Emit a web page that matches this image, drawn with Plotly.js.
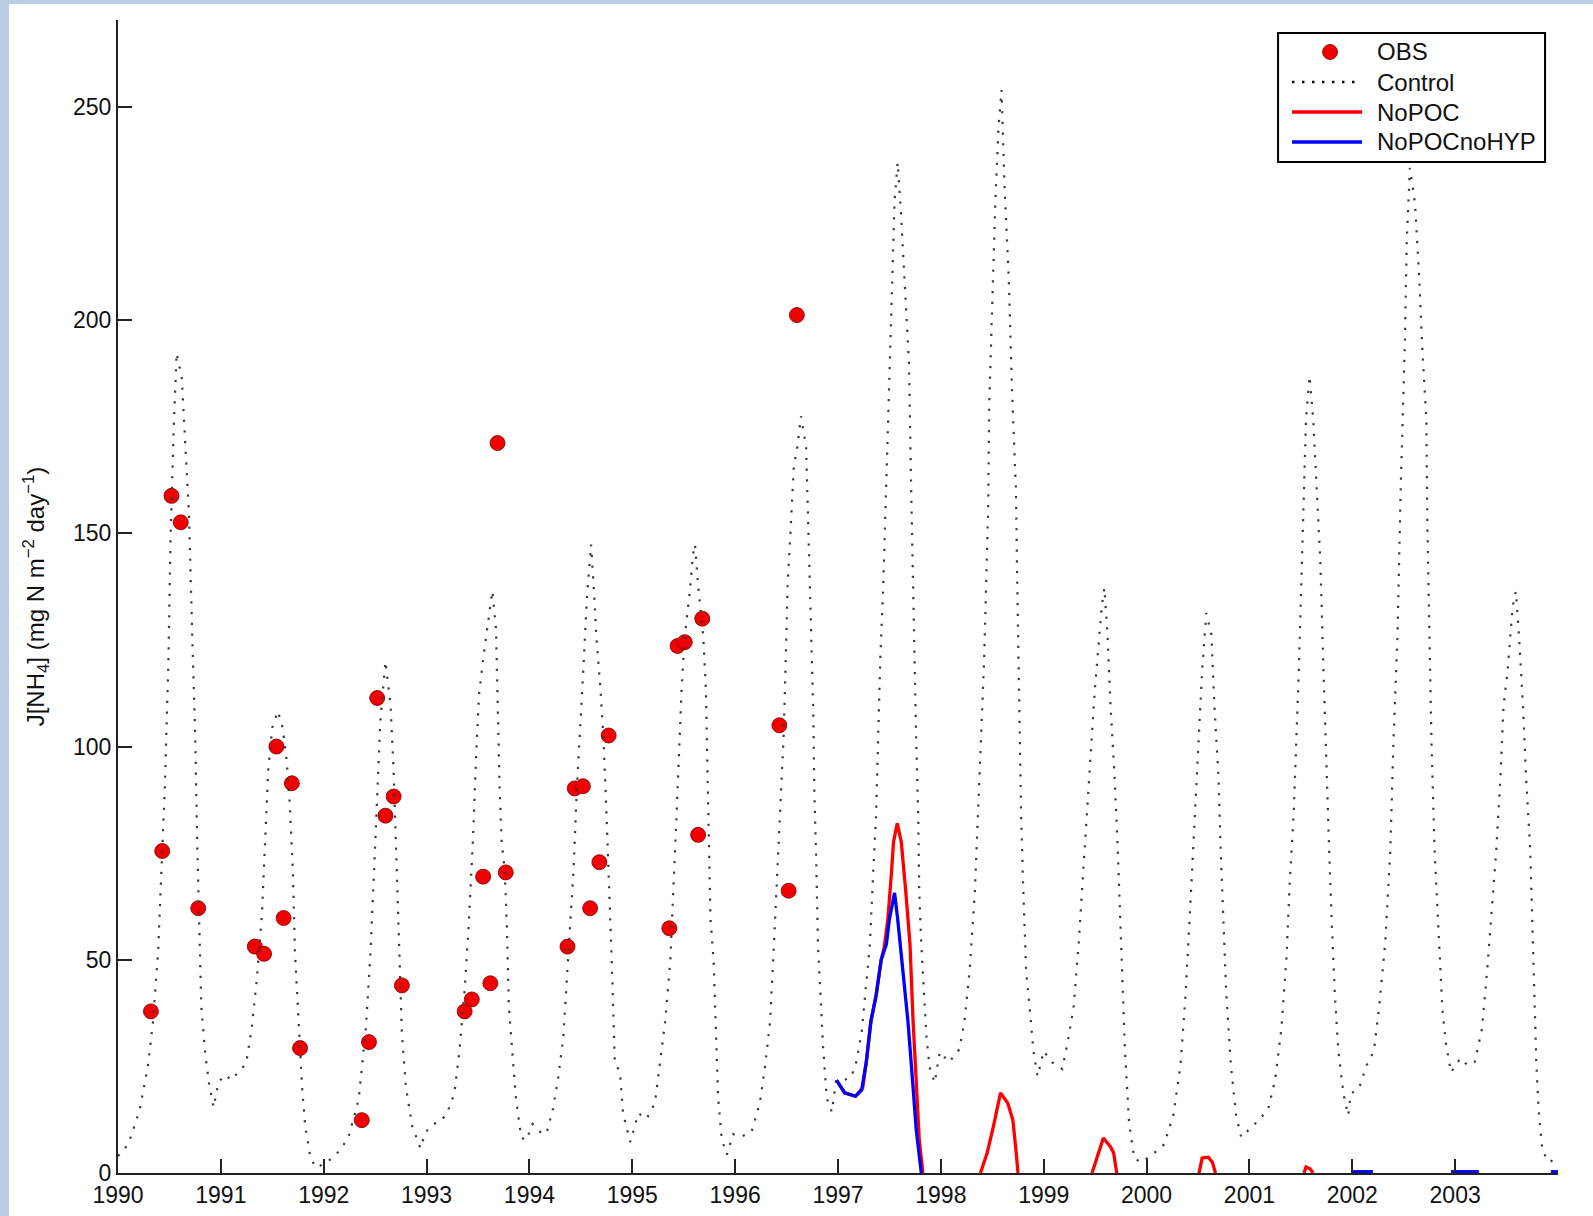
<!DOCTYPE html>
<html>
<head>
<meta charset="utf-8">
<script src="https://cdn.plot.ly/plotly-3.0.1.min.js"></script>
<style>
  html, body { margin: 0; padding: 0; background: #b9cde5; width: 1593px; height: 1216px; overflow: hidden; }
  #chart { position: absolute; left: 9px; top: 4px; width: 1584px; height: 1212px; background: #ffffff; }
</style>
</head>
<body>
<div id="chart"></div>
<script>
// ---- Observations ----
const obsYear = [1990.32,1990.43,1990.52,1990.61,1990.78,1991.33,1991.42,1991.54,1991.61,1991.69,1991.77,
  1992.37,1992.44,1992.52,1992.60,1992.68,1992.76,1993.37,1993.44,1993.55,1993.62,1993.69,1993.77,
  1994.37,1994.44,1994.52,1994.59,1994.68,1994.77,1995.36,1995.44,1995.51,1995.64,1995.68,
  1996.43,1996.52,1996.60];
const obsValue = [37.9,75.5,158.8,152.6,62.1,53.1,51.4,100.0,59.8,91.4,29.3,
  12.4,30.7,111.4,83.8,88.3,44.0,37.9,40.7,69.5,44.5,171.2,70.5,
  53.1,90.2,90.7,62.1,72.9,102.6,57.4,123.6,124.5,79.3,130.0,
  105.0,66.2,201.2];

// ---- Control run ----
const ctlYear = [1990.00,1990.05,1990.11,1990.21,1990.29,1990.34,1990.39,1990.42,1990.455,1990.49,1990.51,1990.54,1990.57,1990.62,1990.65,1990.69,1990.72,1990.75,1990.77,1990.79,1990.81,1990.85,1990.885,1990.93,1990.975,
  1991.04,1991.105,1991.17,1991.245,1991.30,1991.35,1991.40,1991.43,1991.46,1991.50,1991.555,1991.60,1991.64,1991.67,1991.70,1991.72,1991.76,1991.79,1991.82,1991.87,1991.92,1991.98,
  1992.065,1992.15,1992.24,1992.34,1992.41,1992.455,1992.49,1992.52,1992.55,1992.60,1992.65,1992.68,1992.71,1992.73,1992.76,1992.80,1992.86,1992.94,1992.99,
  1993.07,1993.14,1993.20,1993.27,1993.32,1993.37,1993.41,1993.45,1993.48,1993.51,1993.56,1993.61,1993.64,1993.675,1993.69,1993.71,1993.73,1993.76,1993.78,1993.80,1993.84,1993.87,1993.92,1993.97,
  1994.03,1994.13,1994.17,1994.23,1994.28,1994.33,1994.36,1994.39,1994.43,1994.46,1994.49,1994.52,1994.56,1994.60,1994.63,1994.65,1994.69,1994.72,1994.75,1994.78,1994.80,1994.83,1994.88,1994.91,1994.98,
  1995.06,1995.14,1995.22,1995.27,1995.32,1995.37,1995.40,1995.43,1995.46,1995.48,1995.51,1995.56,1995.59,1995.61,1995.64,1995.69,1995.715,1995.73,1995.75,1995.76,1995.79,1995.80,1995.82,1995.835,1995.87,1995.92,1995.98,
  1996.06,1996.16,1996.24,1996.29,1996.34,1996.37,1996.40,1996.43,1996.47,1996.49,1996.51,1996.55,1996.57,1996.605,1996.64,1996.69,1996.70,1996.725,1996.74,1996.76,1996.77,1996.79,1996.805,1996.83,1996.855,1996.89,1996.94,1996.98,
  1997.06,1997.12,1997.17,1997.23,1997.275,1997.31,1997.34,1997.37,1997.39,1997.41,1997.44,1997.47,1997.49,1997.52,1997.55,1997.58,1997.61,1997.65,1997.69,1997.71,1997.73,1997.74,1997.76,1997.78,1997.79,1997.81,1997.835,1997.86,1997.89,1997.94,1997.99,
  1998.035,1998.08,1998.18,1998.23,1998.28,1998.33,1998.36,1998.39,1998.42,1998.44,1998.46,1998.47,1998.50,1998.53,1998.56,1998.59,1998.62,1998.66,1998.69,1998.73,1998.745,1998.76,1998.78,1998.80,1998.815,1998.83,1998.87,1998.90,1998.94,
  1999.00,1999.08,1999.18,1999.23,1999.29,1999.34,1999.39,1999.425,1999.46,1999.495,1999.53,1999.565,1999.59,1999.62,1999.65,1999.69,1999.72,1999.76,1999.79,1999.83,1999.88,1999.95,
  2000.05,2000.17,2000.26,2000.33,2000.38,2000.435,2000.47,2000.505,2000.54,2000.58,2000.63,2000.66,2000.70,2000.72,2000.75,2000.775,2000.82,2000.87,2000.92,2000.99,
  2001.10,2001.185,2001.25,2001.31,2001.36,2001.39,2001.43,2001.455,2001.48,2001.51,2001.53,2001.55,2001.585,2001.62,2001.655,2001.69,2001.72,2001.75,2001.775,2001.80,2001.83,2001.865,2001.915,2001.96,2001.985,
  2002.07,2002.14,2002.21,2002.26,2002.32,2002.37,2002.40,2002.44,2002.47,2002.51,2002.53,2002.56,2002.61,2002.65,2002.68,2002.72,2002.73,2002.75,2002.77,2002.80,2002.84,2002.875,2002.91,2002.96,
  2003.05,2003.12,2003.19,2003.26,2003.31,2003.35,2003.40,2003.44,2003.47,2003.51,2003.56,2003.59,2003.62,2003.66,2003.69,2003.73,2003.76,2003.79,2003.815,2003.85,2003.92,2003.97,2004.00];
const ctlValue = [4,5.1,7.4,14.7,25,35.3,51.9,71,90.4,119.9,148,173.7,192.3,186.5,173.7,154.5,127.6,103,77.6,58.3,39,27.6,21,15.4,21.2,
  23,21.8,23.7,25.6,34,45.5,61,77.6,94.2,104.5,108.3,104.5,96.8,86.5,71,52,32.7,20,11,3.8,1.3,1.9,
  3.2,5.1,8.3,17.3,34,51.9,71,90.4,105.8,120,109.6,94.2,71,52,32.7,20,11,5.8,9.6,
  11.5,12.2,14.1,18.6,28.8,42.9,58.3,77.6,96.8,112.2,122.4,131.4,136.5,127.6,109.6,90.4,77.6,71,58.3,39,26.3,17.3,8.3,7.7,
  11.5,9,9.7,15.2,22.4,32,44,56,71.7,89.7,101.7,116.2,135.4,147.4,135.4,125.8,113.8,101.7,83.7,65.7,50,26,23.6,14,7.3,
  14,12.7,16.4,26,35.6,50,65.7,83.7,101.7,113.8,125.8,136.6,145,147.4,137.8,125.8,113.8,95.7,77.7,59.7,50,41.6,29.6,17.6,7.9,4.3,9.1,
  8.5,9.7,16.4,24.8,35.6,50,65.7,83.7,101.7,118.6,137.8,155.9,165.5,170.3,177.5,170.3,161.9,143.8,125.8,107.8,89.7,71.7,53.6,41.6,29.6,17.6,14.3,21.5,
  21.8,22.3,25,33,44,53.6,69.3,83.7,101.7,119.8,137.8,161.9,180,208,228,237,226,208,190,162,138,120,101.7,83.7,65.7,53.6,41.6,32,24.8,21.2,28.4,
  27.2,26,29,35.6,47.6,65.7,83.7,101.7,119.8,137.8,155.9,180,205,228,245,254,230.6,210,185,160,134.7,109.4,84,67.3,59,47,37,28.6,22.7,
  28.6,26,24.4,30.3,38.7,53.9,72.4,84.2,99.3,112.8,122.9,133,137.2,126.3,109.4,92.6,75.8,50.5,28.6,11.8,3.4,2.5,
  4.2,6.7,13.5,25.3,42.1,67.3,84.2,101,117.8,131.3,126.3,109.4,92.6,75.8,59,42,25.3,13.5,8.4,10.1,
  12.6,15.2,21.9,33.7,50.5,67.3,84.2,101,117.8,143,160,176.8,186.9,176.8,160,143,117.8,92.6,75.8,59,42,28.6,18.5,13.5,18.5,
  20.2,25.3,28.6,38.7,53.9,75.8,101,126.3,160,193.6,218.9,235.7,227.3,210.4,193.6,176.8,151.5,126.3,101,75.8,53.9,38.7,30.3,23.6,
  26.9,25.3,26,33.7,47.1,59,75.8,92.6,109.4,117.8,133,136.4,126.3,109.4,92.6,75.8,50.5,25.3,13.5,5,2.5,3.5,4];

// ---- NoPOC run (gaps = null) ----
const nopocYear = [1996.985,1997.065,1997.17,1997.24,1997.275,1997.32,1997.37,1997.42,1997.45,1997.485,1997.52,1997.54,1997.576,1997.615,1997.66,1997.70,1997.73,1997.76,1997.79,1997.825,1997.83,
  1998.385,1998.45,1998.51,1998.58,1998.65,1998.70,1998.73,1998.75,1998.76,
  1999.47,1999.52,1999.58,1999.65,1999.68,1999.71,1999.72,
  2000.51,2000.54,2000.60,2000.64,2000.67,2000.68,
  2001.53,2001.55,2001.59,2001.62];
const nopocValue = [21.8,18.8,18,20,26,35.6,41.6,50,53,59.6,70.5,77.7,82,77.7,65.7,53.6,35.6,20,7.9,0,null,
  0,4.7,10.8,18.8,16.4,12.4,5.4,0,null,
  0,3.8,8.2,6.1,4.7,0,null,
  0,3.5,3.7,2.5,0,null,
  0,1.4,1.0,0];

// ---- NoPOCnoHYP run (gaps = null) ----
const nohypYear = [1996.985,1997.065,1997.17,1997.23,1997.275,1997.32,1997.37,1997.42,1997.47,1997.50,1997.55,1997.58,1997.63,1997.68,1997.73,1997.76,1997.81,1997.82,
  2002.00,2002.20,2002.21,
  2002.96,2003.23,2003.24,
  2003.93,2004.00];
const nohypValue = [21.8,18.8,18,19.4,26,35.6,41.6,50,53.6,59.6,65.7,59.6,47.6,35.6,20,10.3,0,null,
  0.3,0.3,null,
  0.3,0.3,null,
  0.3,0.3];

const xTicks = [1990,1991,1992,1993,1994,1995,1996,1997,1998,1999,2000,2001,2002,2003];
const yTicks = [0,50,100,150,200,250];
const seriesNames = ['OBS', 'Control', 'NoPOC', 'NoPOCnoHYP'];

const FONT = '"Liberation Sans", Arial, Helvetica, sans-serif';
const RED = '#ff0000', BLUE = '#0000ff', OBSRED = '#f00000', DOT = '#3a3a3a';
const CTL_DASH = '2.2px,8.5px';

const traces = [
  { x: obsYear, y: obsValue, name: seriesNames[0], type: 'scatter', mode: 'markers',
    marker: { color: OBSRED, size: 15, line: { color: '#7a0000', width: 0.8 } } },
  { x: ctlYear, y: ctlValue, name: seriesNames[1], type: 'scatter', mode: 'lines',
    line: { color: DOT, width: 2.2, dash: CTL_DASH } },
  { x: nopocYear, y: nopocValue, name: seriesNames[2], type: 'scatter', mode: 'lines', connectgaps: false,
    line: { color: RED, width: 3.3 } },
  { x: nohypYear, y: nohypValue, name: seriesNames[3], type: 'scatter', mode: 'lines', connectgaps: false,
    line: { color: BLUE, width: 3.3 } }
];

// ---- Legend box (drawn as a MATLAB-style legend, positions in paper units) ----
const lg = { x0: 0.8056, x1: 0.991, y0: 0.8768, y1: 0.9887,
             lineX0: 0.8153, lineX1: 0.8639, markX: 0.8417, textX: 0.8729,
             rows: [0.9723, 0.9462, 0.9202, 0.8942] };
const shapes = [
  { type: 'rect', xref: 'paper', yref: 'paper', x0: lg.x0, x1: lg.x1, y0: lg.y0, y1: lg.y1,
    line: { color: '#000', width: 2 }, fillcolor: '#ffffff', layer: 'above' },
  { type: 'circle', xref: 'paper', yref: 'paper', xsizemode: 'pixel', ysizemode: 'pixel',
    xanchor: lg.markX, yanchor: lg.rows[0], x0: -7.5, x1: 7.5, y0: -7.5, y1: 7.5,
    fillcolor: OBSRED, line: { color: '#7a0000', width: 0.8 }, layer: 'above' },
  { type: 'line', xref: 'paper', yref: 'paper', x0: lg.lineX0, x1: lg.lineX1, y0: lg.rows[1], y1: lg.rows[1],
    line: { color: '#000', width: 2.4, dash: '2.4px,7.6px' }, layer: 'above' },
  { type: 'line', xref: 'paper', yref: 'paper', x0: lg.lineX0, x1: lg.lineX1, y0: lg.rows[2], y1: lg.rows[2],
    line: { color: RED, width: 3.3 }, layer: 'above' },
  { type: 'line', xref: 'paper', yref: 'paper', x0: lg.lineX0, x1: lg.lineX1, y0: lg.rows[3], y1: lg.rows[3],
    line: { color: BLUE, width: 3.3 }, layer: 'above' }
];
const annotations = seriesNames.map((n, i) => ({
  xref: 'paper', yref: 'paper', x: lg.textX, y: lg.rows[i], text: n, showarrow: false,
  xanchor: 'left', yanchor: 'middle', font: { family: FONT, size: 24, color: '#111' }
}));

const layout = {
  width: 1584, height: 1212,
  margin: { l: 109, r: 35, t: 16, b: 43 },
  paper_bgcolor: '#ffffff', plot_bgcolor: '#ffffff',
  font: { family: FONT, size: 22, color: '#111' },
  showlegend: false,
  shapes: shapes,
  annotations: annotations,
  xaxis: {
    range: [1990, 2004], tickvals: xTicks, ticktext: xTicks.map(String),
    ticks: 'inside', ticklen: 14, tickwidth: 2, tickcolor: '#222',
    showline: true, linecolor: '#222', linewidth: 2, mirror: false,
    showgrid: false, zeroline: false,
    tickfont: { family: FONT, size: 23, color: '#111' }
  },
  yaxis: {
    range: [0, 270.4], tickvals: yTicks, ticktext: yTicks.map(String),
    ticks: 'inside', ticklen: 14, tickwidth: 2, tickcolor: '#222',
    showline: true, linecolor: '#222', linewidth: 2, mirror: false,
    showgrid: false, zeroline: false,
    tickfont: { family: FONT, size: 23, color: '#111' },
    title: { text: 'J[NH<sub>4</sub>] (mg N m<sup>−2</sup> day<sup>−1</sup>)', standoff: 22,
             font: { family: FONT, size: 24, color: '#111' } }
  }
};

Plotly.newPlot('chart', traces, layout, { displayModeBar: false, staticPlot: true });
</script>
</body>
</html>
